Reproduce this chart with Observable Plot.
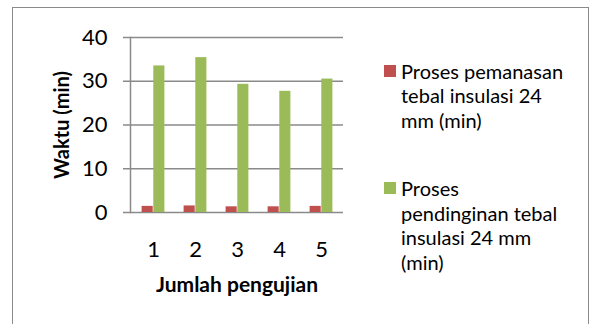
<!DOCTYPE html>
<html>
<head>
<meta charset="utf-8">
<script src="https://cdn.jsdelivr.net/npm/d3@7"></script>
<script src="https://cdn.jsdelivr.net/npm/@observablehq/plot@0.6"></script>
<style>
  html, body { margin: 0; padding: 0; background: #fff; }
  #wrap { position: relative; width: 592px; height: 324px; overflow: hidden; font-family: Lato, "Open Sans", sans-serif; }
  #box { position: absolute; left: 12px; top: 7px; width: 577px; height: 330px; border: 1.5px solid #8a8a8a; box-sizing: border-box; }
  #chart { position: absolute; left: 0; top: 0; }
  .legend { position: absolute; left: 384px; font-size: 20px; line-height: 24.5px; color: #000; white-space: nowrap; }
  .legend .sw { position: absolute; left: 0; width: 12px; height: 12px; }
  .legend .tx { margin-left: 17px; }
</style>
</head>
<body>
<div id="wrap">
  <div id="box"></div>
  <div id="chart"></div>
</div>
<script>
// Test runs and measured times (minutes) for the 24 mm insulation
const trials = ["1", "2", "3", "4", "5"];
const heating = [1.4, 1.5, 1.3, 1.3, 1.4];
const cooling = [33.5, 35.4, 29.3, 27.7, 30.5];
const yTicks = [0, 10, 20, 30, 40];
const seriesNames = [
  "Proses pemanasan tebal insulasi 24 mm (min)",
  "Proses pendinginan tebal insulasi 24 mm (min)"
];
const seriesLines = [
  ["Proses pemanasan", "tebal insulasi 24", "mm (min)"],
  ["Proses", "pendinginan tebal", "insulasi 24 mm", "(min)"]
];
const colors = ["#C0504D", "#9BBB59"];
const yTitle = "Waktu (min)";
const xTitle = "Jumlah pengujian";

const heatRows = trials.map((t, i) => ({trial: t, value: heating[i]}));
const coolRows = trials.map((t, i) => ({trial: t, value: cooling[i]}));

const W = 592, H = 324;
const mL = 130, mR = 249, mT = 37, mB = 112;
const band = (W - mL - mR) / trials.length;
const barW = 11.7;
const grid = "#8a8a8a";

const chart = Plot.plot({
  width: W,
  height: H,
  marginLeft: mL,
  marginRight: mR,
  marginTop: mT,
  marginBottom: mB,
  style: {fontFamily: "Lato, 'Open Sans', sans-serif", color: "#000", background: "transparent"},
  x: {type: "band", domain: trials, padding: 0, axis: null},
  y: {domain: [0, 40], axis: null},
  marks: [
    Plot.gridY(yTicks, {stroke: grid, strokeOpacity: 1, strokeWidth: 1.5}),
    Plot.frame({anchor: "left", stroke: grid, strokeWidth: 1.5}),
    Plot.axisY(yTicks, {tickSize: 7, tickPadding: 16, fontSize: 22, stroke: grid, strokeWidth: 1.5, label: null}),
    Plot.axisX({tickSize: 0, tickPadding: 29, fontSize: 22, label: null}),
    Plot.barY(heatRows, {x: "trial", y: "value", fill: colors[0],
      insetLeft: band / 2 - barW, insetRight: band / 2}),
    Plot.barY(coolRows, {x: "trial", y: "value", fill: colors[1],
      insetLeft: band / 2, insetRight: band / 2 - barW}),
    Plot.text([yTitle], {frameAnchor: "left", dx: -68, rotate: -90, textAnchor: "middle",
      lineAnchor: "middle", fontSize: 20, fontWeight: "bold"}),
    Plot.text([xTitle], {frameAnchor: "bottom", dy: 73, textAnchor: "middle",
      lineAnchor: "middle", fontSize: 21, fontWeight: "bold"})
  ]
});
document.getElementById("chart").appendChild(chart);

// Legend: colour swatch plus wrapped series name
const wrap = document.getElementById("wrap");
const legendTops = [58.5, 176];
seriesNames.forEach((name, i) => {
  const item = document.createElement("div");
  item.className = "legend";
  item.style.top = legendTops[i] + "px";
  item.title = name;
  const sw = document.createElement("div");
  sw.className = "sw";
  sw.style.background = colors[i];
  sw.style.top = "6px";
  item.appendChild(sw);
  const tx = document.createElement("div");
  tx.className = "tx";
  tx.innerHTML = seriesLines[i].join("<br>");
  item.appendChild(tx);
  wrap.appendChild(item);
});
</script>
</body>
</html>
